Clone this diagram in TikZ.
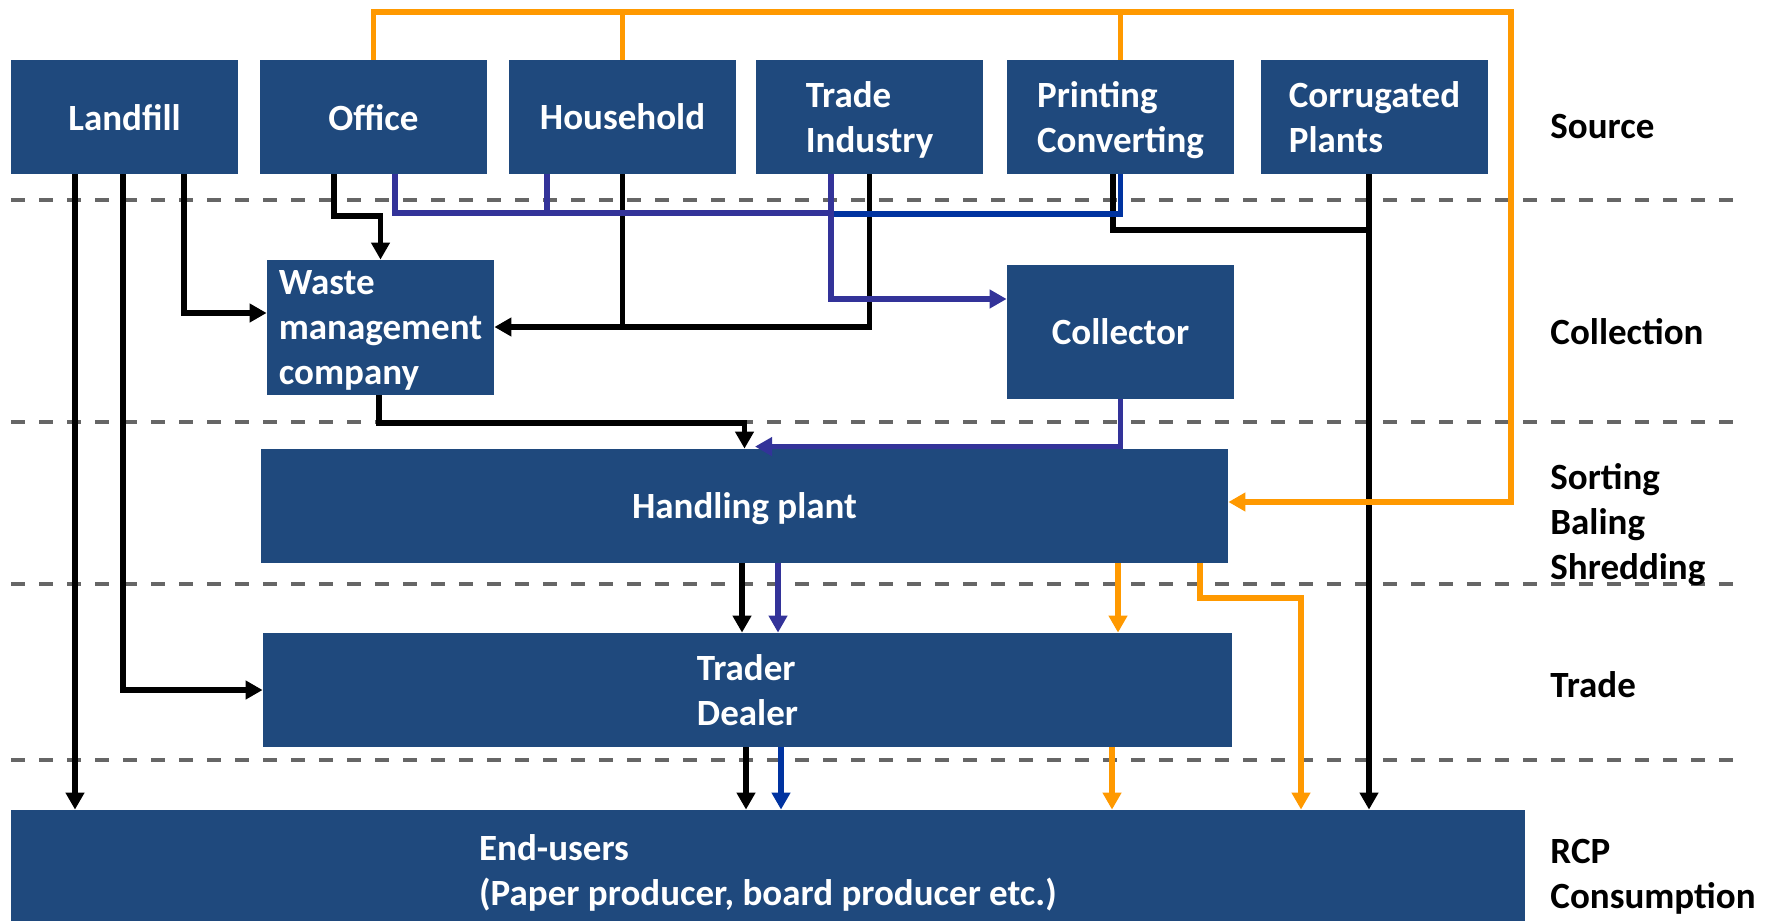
\documentclass[tikz,border=0pt]{standalone}
\usepackage{fontspec}
\setmainfont{Carlito}
\usetikzlibrary{arrows.meta}
\definecolor{boxblue}{HTML}{1F497D}
\definecolor{orng}{HTML}{FF9900}
\definecolor{purp}{HTML}{333399}
\definecolor{dblue}{HTML}{0033A0}
\definecolor{dashgray}{HTML}{666666}
\begin{document}
\begin{tikzpicture}[x=0.5pt,y=-0.5pt,
  box/.style={fill=boxblue, text=white, inner sep=0pt, font=\bfseries\fontsize{18.5}{22.5}\selectfont, align=left, text depth=0pt, minimum width=113.5pt, minimum height=57pt},
  lab/.style={anchor=west, inner sep=0pt, font=\bfseries\fontsize{18.5}{22.5}\selectfont, align=left},
  sep/.style={dashgray, line width=2pt, dash pattern=on 7pt off 7pt},
  blk/.style={line width=2.8pt, black},
  pur/.style={line width=2.7pt, purp},
  blu/.style={line width=2.8pt, dblue},
  org/.style={line width=2.9pt, orng},
  tip/.style={-{Triangle[length=8.5pt,width=9pt]}},
]
\useasboundingbox (0,0) rectangle (1775,920);

% separators
\draw[sep] (11,200) -- (1733,200);
\draw[sep] (11,422) -- (1733,422);
\draw[sep] (11,584) -- (1733,584);
\draw[sep] (11,760) -- (1733,760);

% nodes
\node[box] (landfill) at (124.5,117) {Landfill};
\node[box] (office) at (373.5,117) {Office};
\node[box] (household) at (622.5,117) {Household};
\node[box] (trade) at (869.5,117) {Trade\\Industry};
\node[box] (printing) at (1120.5,117) {Printing\\Converting};
\node[box] (corrugated) at (1374.5,117) {Corrugated\\Plants};
\node[box, minimum height=67.5pt] (wmc) at (380.5,327.5) {Waste\\management\\company};
\node[box, minimum height=67pt] (collector) at (1120.5,332) {Collector};
\node[box, minimum width=483.5pt] (handling) at (744.5,506) {Handling plant};
\node[box, minimum width=484.5pt] (trader) at (747.5,690) {Trader\\Dealer};
\node[box, minimum width=757pt, minimum height=60pt] (endusers) at (768,870) {End-users\\(Paper producer, board producer etc.)};

% labels
\node[lab] (lsrc) at (1550,127) {Source};
\node[lab] (lcol) at (1550,332) {Collection};
\node[lab] (lsort) at (1550,525) {Sorting\\Baling\\Shredding};
\node[lab] (ltrade) at (1550,685) {Trade};
\node[lab] (lrcp) at (1550,877) {RCP\\Consumption};

% junction coordinates
\coordinate (cj) at (1369,230);
\coordinate (pj) at (831,213);
\coordinate (otr) at (1511,12);

% black flows
\draw[blk,tip] (landfill.south -| 75,0) -- (endusers.north -| 75,0);
\draw[blk,tip] (landfill.south -| 123,0) |- (trader.west);
\draw[blk,tip] (landfill.south -| 184,0) |- (wmc.west |- 0,313);
\draw[blk,tip] (office.south -| 334,0) -- (334,216) -| (wmc.north);
\draw[blk] (household.south) -- (household.south |- 0,327);
\draw[blk,tip] (trade.south) |- (wmc.east |- 0,327);
\draw[blk] (printing.south -| 1113,0) |- (cj);
\draw[blk,tip] (corrugated.south -| 1369,0) -- (endusers.north -| 1369,0);
\draw[blk,tip] (wmc.south -| 379,0) -- (379,423) -| (handling.north);
\draw[blk,tip] (handling.south -| 742,0) -- (trader.north -| 742,0);
\draw[blk,tip] (trader.south -| 746,0) -- (endusers.north -| 746,0);

% purple / blue flows
\draw[blu] (printing.south) |- (831,214);
\draw[pur] (office.south -| 395,0) |- (pj);
\draw[pur] (household.south -| 547,0) -- (547,213);
\draw[pur,tip] (trade.south -| 831,0) |- (collector.west |- 0,299);
\draw[pur,tip] (collector.south) |- ([yshift=1pt]handling.north -| 755,0);
\draw[pur,tip] (handling.south -| 778,0) -- (trader.north -| 778,0);
\draw[blu,tip] (trader.south -| 781,0) -- (endusers.north -| 781,0);

% orange flows
\draw[org,tip] (office.north) |- (otr) |- (handling.east |- 0,502);
\draw[org] (household.north) -- (household.north |- otr);
\draw[org] (printing.north) -- (printing.north |- otr);
\draw[org,tip] (handling.south -| 1118,0) -- (trader.north -| 1118,0);
\draw[org,tip] (handling.south -| 1200,0) -- (1200,598) -| (endusers.north -| 1301,0);
\draw[org,tip] (trader.south -| 1112,0) -- (endusers.north -| 1112,0);
\end{tikzpicture}
\end{document}
